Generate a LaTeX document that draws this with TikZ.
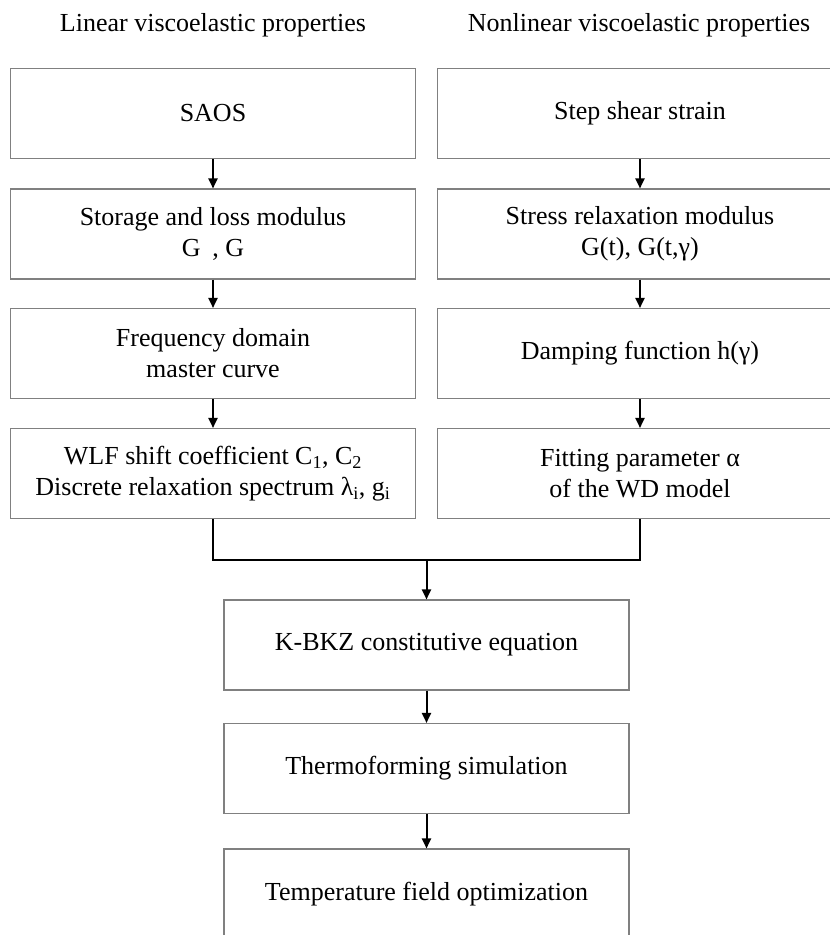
\documentclass[tikz,border=0pt]{standalone}
\usepackage{fontspec}
\setmainfont{Liberation Serif}
\usetikzlibrary{arrows.meta}
\begin{document}
\begin{tikzpicture}[x=1pt,y=-1pt,
  box/.style={draw=black!50, line width=1.1pt, minimum width=405pt, minimum height=90pt,
    align=center, inner sep=0pt, font=\fontsize{26}{31}\selectfont},
  head/.style={font=\fontsize{26}{31}\selectfont, inner sep=0pt},
  conn/.style={line width=2pt, black},
  arr/.style={conn, -{Triangle[length=10pt,width=9pt]}}]
\useasboundingbox (0,0) rectangle (830,935);
\clip (0,0) rectangle (830,935);
\fill[white] (0,0) rectangle (830,935);
% headings
\node[head] (hl) at (213,25) {Linear viscoelastic properties};
\node[head] (hr) at (639,25) {Nonlinear viscoelastic properties};
% left column
\node[box] (l1) at (213,113.5) {SAOS};
\node[box] (l2) at (213,234) {Storage and loss modulus\\G\hspace{0.45em}, G};
\node[box] (l3) at (213,353.5) {Frequency domain\\master curve};
\node[box] (l4) at (213,473.5) {WLF shift coefficient C\textsubscript{1}, C\textsubscript{2}\\Discrete relaxation spectrum λ\textsubscript{i}, g\textsubscript{i}};
% right column
\node[box] (r1) at (640,113.5) {Step shear strain};
\node[box] (r2) at (640,234) {Stress relaxation modulus\\G(t), G(t,γ)};
\node[box] (r3) at (640,353.5) {Damping function h(γ)};
\node[box] (r4) at (640,473.5) {Fitting parameter α\\of the WD model};
% bottom column
\node[box] (b1) at (426.5,645) {K-BKZ constitutive equation};
\node[box] (b2) at (426.5,768.5) {Thermoforming simulation};
\node[box] (b3) at (426.5,894) {Temperature field optimization};
% arrows
\draw[arr] (l1) -- (l2);
\draw[arr] (l2) -- (l3);
\draw[arr] (l3) -- (l4);
\draw[arr] (r1) -- (r2);
\draw[arr] (r2) -- (r3);
\draw[arr] (r3) -- (r4);
\coordinate (jl) at (213,560);
\coordinate (jr) at (640,560);
\coordinate (jm) at (426.5,560);
\draw[conn] (l4.south) -- (jl) -- (jr) -- (r4.south);
\draw[arr] (jm) -- (b1.north);
\draw[arr] (b1) -- (b2);
\draw[arr] (b2) -- (b3);
\end{tikzpicture}
\end{document}
